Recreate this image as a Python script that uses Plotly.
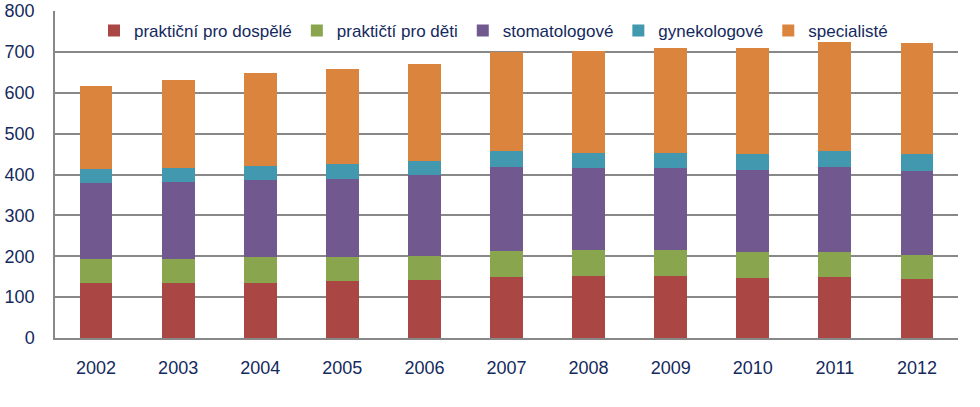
import plotly.graph_objects as go

years = ["2002", "2003", "2004", "2005", "2006", "2007", "2008", "2009", "2010", "2011", "2012"]
prakticni_dospele = [135, 135, 135, 139, 143, 149, 152, 152, 148, 150, 144]
prakticti_deti = [58, 58, 62, 59, 58, 64, 63, 63, 62, 60, 59]
stomatologove = [186, 189, 190, 191, 198, 205, 201, 201, 201, 208, 206]
gynekologove = [34, 35, 35, 37, 34, 39, 37, 37, 40, 39, 42]
specialiste = [204, 214, 227, 232, 237, 242, 250, 257, 259, 267, 271]

series_names = ["praktiční pro dospělé", "praktičtí pro děti", "stomatologové", "gynekologové", "specialisté"]
series_values = [prakticni_dospele, prakticti_deti, stomatologove, gynekologove, specialiste]
colors = ["#AA4643", "#89A54E", "#71588F", "#4198AF", "#DB843D"]

text_color = "#14295E"
grid_color = "#888888"

fig = go.Figure()
for name, vals, col in zip(series_names, series_values, colors):
    fig.add_trace(go.Bar(x=years, y=vals, name=name, marker=dict(color=col, line=dict(width=0)), width=0.4))

fig.update_layout(
    width=980, height=407,
    margin=dict(l=55, r=22, t=11, b=69, autoexpand=False),
    barmode="stack",
    plot_bgcolor="white", paper_bgcolor="white",
    font=dict(family="Liberation Sans, Arial, sans-serif", size=18, color=text_color),
    legend=dict(orientation="h", x=0.4856, xanchor="center", y=0.939, yanchor="middle",
                bgcolor="rgba(0,0,0,0)", font=dict(size=17, color=text_color),
                traceorder="normal"),
    bargap=0.6,
)
fig.update_xaxes(showgrid=False, showline=True, linecolor=grid_color, linewidth=1.5, automargin=False,
                 ticks="", ticklabelstandoff=13, tickfont=dict(size=18, color=text_color))
fig.update_yaxes(range=[0, 800], dtick=100, showgrid=True, gridcolor=grid_color, gridwidth=1.5,
                 showline=True, linecolor=grid_color, linewidth=1.5, zeroline=False, automargin=False,
                 ticks="", ticklabelstandoff=15, tickfont=dict(size=18, color=text_color))

fig.write_html("out.html")
